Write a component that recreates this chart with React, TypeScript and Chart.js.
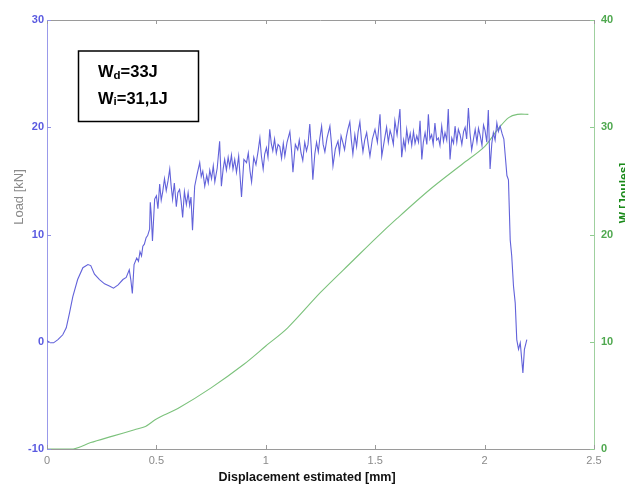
import React, { useEffect, useRef } from "react";
import { Chart, registerables } from "chart.js";

Chart.register(...registerables);

// Load curve (displacement [mm], load [kN])
const loadX = [
  0.0, 0.015, 0.03, 0.05, 0.072, 0.088, 0.103, 0.118, 0.14, 0.164, 0.187, 0.2, 0.217, 0.24, 0.263, 0.285, 0.304,
  0.325, 0.347, 0.362, 0.376, 0.383, 0.39, 0.398, 0.41, 0.418, 0.425, 0.432, 0.438, 0.445, 0.453, 0.46, 0.469,
  0.472, 0.476, 0.482, 0.492,
  0.5, 0.507, 0.515, 0.522, 0.529, 0.537, 0.545, 0.553, 0.561, 0.567, 0.574, 0.582, 0.591, 0.598, 0.606, 0.613,
  0.62, 0.628, 0.637, 0.645, 0.652, 0.658, 0.665, 0.675, 0.686, 0.698, 0.705, 0.712, 0.721, 0.73, 0.737, 0.744,
  0.752, 0.76, 0.767, 0.778, 0.789, 0.797, 0.805, 0.812, 0.82, 0.828, 0.835, 0.843, 0.85, 0.858, 0.866, 0.876,
  0.889, 0.9, 0.912, 0.92, 0.928, 0.935, 0.945, 0.955, 0.965, 0.973, 0.98, 0.988, 0.995, 1.003, 1.01, 1.018,
  1.025, 1.032, 1.04, 1.048, 1.056, 1.064, 1.072, 1.08, 1.087, 1.097, 1.11, 1.117, 1.124, 1.135, 1.146, 1.153,
  1.161, 1.169, 1.178, 1.186, 1.193, 1.201, 1.208, 1.215, 1.224, 1.232, 1.24, 1.247, 1.255, 1.262, 1.27, 1.28,
  1.293, 1.3, 1.307, 1.318, 1.33, 1.337, 1.344, 1.352, 1.36, 1.368, 1.375, 1.384, 1.391, 1.398, 1.407, 1.415,
  1.422, 1.43, 1.437, 1.444, 1.452, 1.461, 1.468, 1.476, 1.487, 1.499, 1.51, 1.522, 1.53, 1.542, 1.552, 1.56,
  1.568, 1.575, 1.583, 1.59, 1.6, 1.613, 1.621, 1.63, 1.637, 1.644, 1.652, 1.66, 1.667, 1.675, 1.682, 1.69,
  1.698, 1.705, 1.713, 1.72, 1.728, 1.736, 1.743, 1.75, 1.758, 1.765, 1.773, 1.781, 1.789, 1.796, 1.804, 1.812,
  1.819, 1.827, 1.834, 1.842, 1.85, 1.858, 1.865, 1.873, 1.88, 1.888, 1.896, 1.904, 1.911, 1.918, 1.926, 1.933,
  1.941, 1.95, 1.957, 1.965, 1.972, 1.98, 1.988, 1.995, 2.002, 2.01, 2.017, 2.025, 2.033, 2.04, 2.048, 2.056,
  2.063, 2.071, 2.08, 2.088, 2.095, 2.102, 2.109, 2.117, 2.124, 2.132, 2.14, 2.147, 2.155, 2.163, 2.175, 2.182,
  2.193,
];
const loadY = [
  0.1, -0.1, -0.1, 0.2, 0.65, 1.3, 2.7, 4.2, 5.8, 6.9, 7.2, 7.1, 6.3, 5.8, 5.4, 5.2, 5.0,
  5.3, 5.8, 6.0, 6.7, 5.8, 4.5, 7.2, 7.8, 7.5, 8.4, 8.0, 8.9, 9.1, 9.7, 9.9, 10.5,
  13.0, 12.0, 9.4, 13.3,
  13.6, 12.4, 14.7, 13.2, 14.0, 15.2, 14.1, 15.0, 16.1, 14.6, 13.3, 14.8, 12.6, 13.9, 14.2, 13.1,
  11.6, 14.0, 12.8, 13.9, 12.7, 13.5, 10.4, 14.5, 15.6, 16.7, 15.4, 15.9, 14.5, 15.5, 14.8, 16.0,
  15.2, 16.4, 14.9, 16.2, 18.7, 14.5, 16.1, 17.0, 16.0, 17.2, 16.3, 17.4, 16.1, 17.0, 15.8, 17.3,
  13.5, 17.0, 16.7, 17.6, 15.9, 14.9, 17.2, 16.5, 17.8, 19.0, 17.3, 16.1, 17.5, 18.1, 17.2, 19.8,
  18.5, 17.8, 18.9, 17.6, 18.4, 18.2, 17.1, 18.5, 17.3, 18.6, 19.6, 18.0, 15.8, 18.4, 17.9, 18.8,
  17.6, 16.9, 18.6, 17.8, 18.4, 20.3, 18.0, 15.1, 17.5, 18.6, 17.7, 19.0, 20.1, 18.4, 17.7, 19.0,
  20.1, 18.5, 16.4, 18.0, 18.7, 17.6, 19.2, 18.6, 17.9, 19.1, 19.8, 20.5, 18.8, 17.5, 19.3, 18.2,
  19.6, 20.5, 18.9, 17.7, 18.8, 19.5, 18.4, 17.3, 18.9, 19.8, 18.6, 21.2, 17.3, 18.8, 20.0, 18.6,
  19.7, 19.2, 18.4, 20.6, 19.3, 21.7, 17.2, 18.8, 18.0, 19.8, 18.6, 19.4, 18.3, 19.6, 18.5, 19.2,
  18.6, 20.6, 17.0, 18.6, 19.5, 18.4, 21.2, 18.9, 19.3, 18.4, 20.4, 18.8, 19.0, 18.3, 20.1, 18.7,
  19.5, 18.8, 21.7, 17.0, 19.0, 18.5, 20.1, 18.6, 19.8, 19.3, 18.4, 19.6, 20.0, 18.9, 21.8, 19.5,
  17.9, 19.0, 19.8, 18.6, 19.9, 19.2, 18.3, 20.2, 19.7, 18.6, 21.6, 16.1, 18.5, 19.5, 18.8, 20.4,
  19.6, 20.1, 19.4, 18.9, 17.2, 15.5, 15.1, 9.5, 8.0, 5.2, 3.6, 0.2, -0.7, -0.1, -2.9, -0.7,
  0.2,
];

// Energy curve (displacement [mm], W [Joules])
const energyX = [0, 0.12, 0.2, 0.3, 0.4, 0.45, 0.5, 0.6, 0.75, 0.9, 1.0, 1.1, 1.25, 1.4, 1.5, 1.6, 1.75, 1.9, 2.0, 2.06, 2.11, 2.15, 2.2];
const energyY = [0, 0, 0.6, 1.2, 1.8, 2.1, 2.8, 3.8, 5.7, 7.9, 9.6, 11.3, 14.6, 17.6, 19.6, 21.5, 24.2, 26.6, 28.2, 29.8, 30.9, 31.2, 31.2];

const xTickLabels = ["0", "0.5", "1", "1.5", "2", "2.5"];
const loadTickLabels = ["-10", "0", "10", "20", "30"];
const energyTickLabels = ["0", "10", "20", "30", "40"];

const FONT = "'Liberation Sans', Arial, sans-serif";

const decorPlugin = {
  id: "decor",
  afterDraw(chart: any) {
    const ctx = chart.ctx;
    const { left, right, top, bottom } = chart.chartArea;
    ctx.save();
    ctx.strokeStyle = "#9a9a9a";
    ctx.lineWidth = 1;
    ctx.beginPath();
    ctx.moveTo(left, top + 0.5);
    ctx.lineTo(right, top + 0.5);
    ctx.stroke();

    const xs = chart.scales.x;
    ctx.strokeStyle = "#9a9a9a";
    xs.ticks.forEach((t: any) => {
      const px = Math.round(xs.getPixelForValue(t.value)) + 0.5;
      ctx.beginPath();
      ctx.moveTo(px, bottom);
      ctx.lineTo(px, bottom - 4);
      ctx.moveTo(px, top);
      ctx.lineTo(px, top + 4);
      ctx.stroke();
    });
    const ys = chart.scales.y;
    ctx.strokeStyle = "#8f8fe6";
    ys.ticks.forEach((t: any) => {
      const py = Math.round(ys.getPixelForValue(t.value)) + 0.5;
      ctx.beginPath();
      ctx.moveTo(left, py);
      ctx.lineTo(left + 4, py);
      ctx.stroke();
    });
    const y1 = chart.scales.y1;
    ctx.strokeStyle = "#8fcc8f";
    y1.ticks.forEach((t: any) => {
      const py = Math.round(y1.getPixelForValue(t.value)) + 0.5;
      ctx.beginPath();
      ctx.moveTo(right, py);
      ctx.lineTo(right - 4, py);
      ctx.stroke();
    });

    ctx.fillStyle = "#8a8a8a";
    ctx.font = `13px ${FONT}`;
    ctx.textAlign = "center";
    ctx.textBaseline = "middle";
    ctx.save();
    ctx.translate(19, 197);
    ctx.rotate(-Math.PI / 2);
    ctx.fillText("Load [kN]", 0, 0);
    ctx.restore();

    ctx.fillStyle = "#111";
    ctx.font = `bold 12.5px ${FONT}`;
    ctx.fillText("Displacement estimated [mm]", 307, 478);

    ctx.fillStyle = "#1a8a1a";
    ctx.font = `bold 12px ${FONT}`;
    ctx.save();
    ctx.translate(628, 193);
    ctx.rotate(-Math.PI / 2);
    ctx.textBaseline = "alphabetic";
    ctx.fillText("W [Joules]", 0, 0);
    ctx.restore();

    ctx.fillStyle = "#fff";
    ctx.fillRect(78, 51, 120, 70);
    ctx.strokeStyle = "#000";
    ctx.lineWidth = 1.5;
    ctx.strokeRect(78.5, 51, 120, 70.5);
    ctx.fillStyle = "#000";
    ctx.textAlign = "left";
    ctx.textBaseline = "alphabetic";
    const drawSub = (x: number, y: number, main: string, sub: string, rest: string) => {
      ctx.font = `bold 16.5px ${FONT}`;
      ctx.fillText(main, x, y);
      let cx = x + ctx.measureText(main).width;
      ctx.font = `bold 11.5px ${FONT}`;
      ctx.fillText(sub, cx, y + 1.5);
      cx += ctx.measureText(sub).width;
      ctx.font = `bold 16.5px ${FONT}`;
      ctx.fillText(rest, cx, y);
    };
    drawSub(98, 77, "W", "d", "=33J");
    drawSub(98, 103.5, "W", "i", "=31,1J");
    ctx.restore();
  },
};

export default function App() {
  const ref = useRef<HTMLCanvasElement | null>(null);
  useEffect(() => {
    document.body.style.margin = "0";
    const canvas = ref.current;
    if (!canvas) return;
    const loadData = loadX.map((x, i) => ({ x, y: loadY[i] }));
    const energyData = energyX.map((x, i) => ({ x, y: energyY[i] }));
    const chart = new Chart(canvas, {
      type: "line",
      data: {
        datasets: [
          {
            label: "Load",
            data: loadData,
            yAxisID: "y",
            borderColor: "#6262da",
            borderWidth: 1.1,
            pointRadius: 0,
            tension: 0,
          },
          {
            label: "W",
            data: energyData,
            yAxisID: "y1",
            borderColor: "#7cc27c",
            borderWidth: 1.1,
            pointRadius: 0,
            tension: 0.3,
          },
        ],
      },
      options: {
        responsive: false,
        animation: false,
        layout: { padding: { top: 20, left: 0, right: 0, bottom: 0 } },
        plugins: { legend: { display: false }, tooltip: { enabled: false } },
        scales: {
          x: {
            type: "linear",
            min: 0,
            max: 2.5,
            ticks: {
              stepSize: 0.5,
              color: "#8a8a8a",
              font: { family: FONT, size: 11 },
              padding: 5,
              maxRotation: 0,
              callback: (_v: any, i: number) => xTickLabels[i],
            },
            grid: { drawOnChartArea: false, drawTicks: false },
            border: { color: "#9a9a9a" },
            afterFit: (s: any) => {
              s.height = 40;
              s.paddingLeft = 0;
              s.paddingRight = 0;
            },
          },
          y: {
            type: "linear",
            position: "left",
            min: -10,
            max: 30,
            ticks: {
              stepSize: 10,
              color: "#5a5ae0",
              font: { family: FONT, size: 11, weight: "bold" },
              padding: 3,
              callback: (_v: any, i: number) => loadTickLabels[i],
            },
            grid: { drawOnChartArea: false, drawTicks: false },
            border: { color: "#9999ea" },
            afterFit: (s: any) => {
              s.width = 47;
              s.paddingTop = 0;
              s.paddingBottom = 0;
            },
          },
          y1: {
            type: "linear",
            position: "right",
            min: 0,
            max: 40,
            ticks: {
              stepSize: 10,
              color: "#4fa84f",
              font: { family: FONT, size: 11, weight: "bold" },
              padding: 7,
              callback: (_v: any, i: number) => energyTickLabels[i],
            },
            grid: { drawOnChartArea: false, drawTicks: false },
            border: { color: "#9fd09f" },
            afterFit: (s: any) => {
              s.width = 31;
              s.paddingTop = 0;
              s.paddingBottom = 0;
            },
          },
        },
      },
      plugins: [decorPlugin],
    } as any);
    return () => chart.destroy();
  }, []);
  return (
    <div style={{ position: "absolute", left: 0, top: 0, width: 625, height: 489, background: "#fff" }}>
      <canvas ref={ref} width={625} height={489} />
    </div>
  );
}
